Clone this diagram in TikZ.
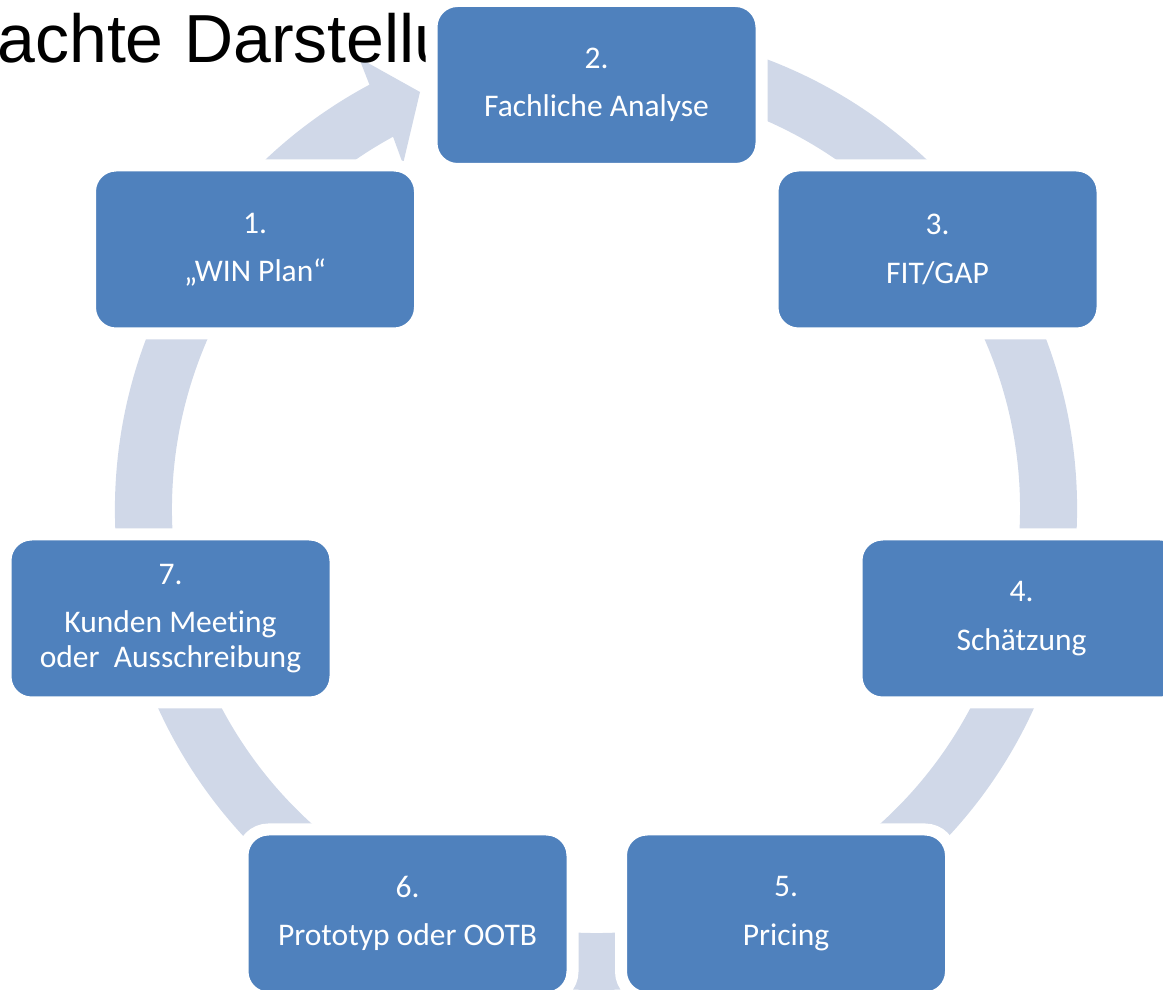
\documentclass[tikz,border=0pt]{standalone}
\usepackage{fontspec}
\setmainfont{Carlito}[Ligatures=NoCommon]
\newfontfamily\titlefont{Liberation Sans}
\definecolor{boxblue}{RGB}{79,129,189}
\definecolor{ringblue}{RGB}{208,216,232}
\tikzset{
	stepbox/.style={draw=white,line width=12pt,fill=boxblue,rounded corners=26pt,minimum width=330pt,minimum height=168pt,inner sep=0pt,text=white,align=center,font=\fontsize{31.5}{34.5}\selectfont},
	titletext/.style={font=\titlefont\fontsize{68}{80}\selectfont,anchor=base west,inner sep=0pt}
}
\begin{document}
\begin{tikzpicture}[x=1pt,y=1pt]
	\useasboundingbox (0,0) rectangle (1163,989);
	\clip (0,0) rectangle (1163,989);
	\begin{scope}[shift={(596,480)}]
		\fill[ringblue] (80:481) arc[start angle=80,end angle=-241.9,radius=481] -- (-237,451) -- (-176,417) -- (-193,345) -- (-241.4:424) arc[start angle=-241.4,end angle=80,radius=424] -- cycle;
	\end{scope}
	\node[titletext] (title) at (184,926) {\llap{achte\hspace{0.3em}}Darstellu};
	\node[stepbox] (s1) at (255,739.5) {1.\\[14pt]„WIN Plan“};
	\node[stepbox] (s2) at (596.5,904) {2.\\[14pt]Fachliche Analyse};
	\node[stepbox] (s3) at (937.5,739.5) {3.\\[14pt]FIT/GAP};
	\node[stepbox] (s4) at (1021.5,370.5) {4.\\[14pt]Schätzung};
	\node[stepbox] (s5) at (786,75.5) {5.\\[14pt]Pricing};
	\node[stepbox] (s6) at (407.5,75.5) {6.\\[14pt]Prototyp oder OOTB};
	\node[stepbox] (s7) at (170.5,370.5) {7.\\[14pt]Kunden Meeting\\oder~ Ausschreibung};
\end{tikzpicture}
\end{document}
